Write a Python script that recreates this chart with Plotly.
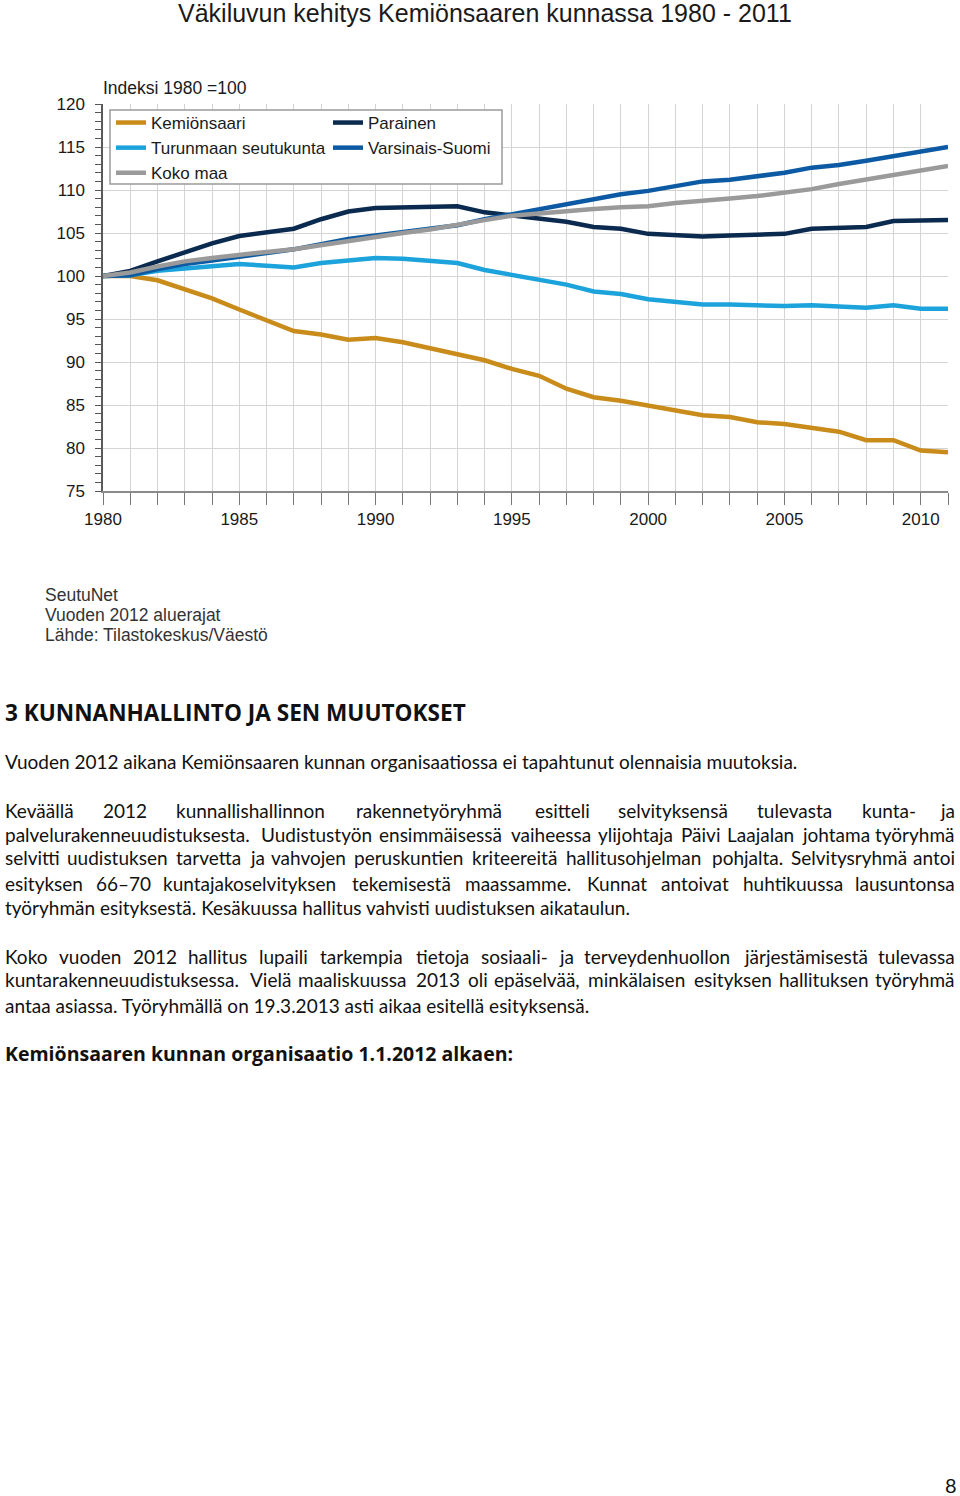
import plotly.graph_objects as go

# ---------------- data ----------------
years = list(range(1980, 2012))
kemionsaari = [100, 100, 99.5, 98.5, 97.4, 96.1, 94.8, 93.6, 93.2, 92.6, 92.8, 92.3, 91.6, 90.9, 90.2, 89.2,
               88.4, 86.9, 85.9, 85.5, 84.9, 84.4, 83.8, 83.6, 83.0, 82.8, 82.4, 81.9, 80.9, 80.9, 79.7, 79.5]
parainen = [100, 100.6, 101.7, 102.8, 103.8, 104.65, 105.1, 105.5, 106.6, 107.5, 107.9, 108.0, 108.1, 108.1, 107.4, 107.0,
            106.6, 106.3, 105.7, 105.5, 104.9, 104.7, 104.6, 104.7, 104.8, 104.9, 105.5, 105.6, 105.7, 106.4, 106.4, 106.5]
turunmaa = [100, 100.1, 100.6, 100.85, 101.2, 101.4, 101.2, 101.0, 101.5, 101.8, 102.1, 102.0, 101.8, 101.5, 100.7, 100.1,
            99.5, 99.0, 98.2, 97.9, 97.3, 97.0, 96.7, 96.7, 96.6, 96.5, 96.6, 96.5, 96.3, 96.6, 96.2, 96.2]
varsinais = [100, 100.1, 100.8, 101.4, 101.8, 102.2, 102.7, 103.1, 103.7, 104.3, 104.7, 105.1, 105.5, 105.9, 106.6, 107.2,
             107.8, 108.4, 109.0, 109.5, 109.9, 110.5, 111.0, 111.2, 111.6, 112.0, 112.6, 112.9, 113.4, 113.9, 114.5, 115.0]
koko_maa = [100, 100.4, 101.1, 101.7, 102.1, 102.5, 102.8, 103.1, 103.6, 104.1, 104.5, 105.0, 105.4, 106.0, 106.5, 107.0,
            107.3, 107.6, 107.8, 108.0, 108.1, 108.5, 108.7, 109.0, 109.3, 109.7, 110.1, 110.7, 111.2, 111.7, 112.3, 112.8]

series_names = ["Kemiönsaari", "Parainen", "Turunmaan seutukunta", "Varsinais-Suomi", "Koko maa"]
series_values = [kemionsaari, parainen, turunmaa, varsinais, koko_maa]
series_colors = ["#C98C1B", "#0B2A4F", "#1CA3DB", "#0C5AA3", "#9A9A9A"]
series_legend = ["legend", "legend2", "legend", "legend2", "legend"]

W, H = 960, 1496
def fx(x):
    return x / W
def fy(y):
    return 1 - y / H

CHART_FONT = "Liberation Sans, Arial, sans-serif"
BODY_FONT = "Lato, Open Sans, sans-serif"
HEAD_FONT = "Open Sans, Lato, sans-serif"

fig = go.Figure()
for name, vals, col, lg in zip(series_names, series_values, series_colors, series_legend):
    fig.add_trace(go.Scatter(x=years, y=vals, mode="lines", name=name,
                             line=dict(color=col, width=4.5), legend=lg))

grid = "#D4D4D4"
LEG_FONT = dict(size=17, family=CHART_FONT, color="#1a1a1a")
fig.update_layout(
    width=W, height=H,
    margin=dict(l=0, r=0, t=0, b=0),
    paper_bgcolor="white", plot_bgcolor="white",
    font=dict(family=CHART_FONT, color="#1a1a1a"),
    showlegend=True,
    xaxis=dict(domain=[fx(103), fx(948)], range=[1980, 2011], tick0=1980, dtick=5,
               ticks="outside", ticklen=12, tickcolor="#777", tickwidth=1,
               showgrid=True, gridcolor=grid, gridwidth=1,
               minor=dict(dtick=1, tick0=1980, ticks="outside", ticklen=12, tickcolor="#777",
                          showgrid=True, gridcolor=grid, gridwidth=1),
               showline=True, linecolor="#8A8A8A", linewidth=1.5, zeroline=False,
               tickfont=dict(size=17, family=CHART_FONT, color="#1a1a1a"),
               ticklabelstandoff=0, automargin=False, fixedrange=True),
    yaxis=dict(domain=[fy(491), fy(104)], range=[75, 120], tick0=75, dtick=5,
               ticks="outside", ticklen=6, tickcolor="#555", tickwidth=1,
               showgrid=True, gridcolor=grid, gridwidth=1,
               minor=dict(dtick=1, ticks="outside", ticklen=6, tickcolor="#555", showgrid=False),
               showline=True, linecolor="#5A5A5A", linewidth=1.5, zeroline=False,
               tickfont=dict(size=17, family=CHART_FONT, color="#1a1a1a"),
               ticklabelstandoff=7, automargin=False, fixedrange=True),
    legend=dict(x=fx(111), y=fy(105), xanchor="left", yanchor="top", orientation="v",
                bgcolor="rgba(0,0,0,0)", borderwidth=0, itemwidth=30, traceorder="normal",
                font=LEG_FONT, tracegroupgap=0),
    legend2=dict(x=fx(328), y=fy(105), xanchor="left", yanchor="top", orientation="v",
                 bgcolor="rgba(0,0,0,0)", borderwidth=0, itemwidth=30, traceorder="normal",
                 font=LEG_FONT, tracegroupgap=0),
)

# legend frame
fig.add_shape(type="rect", xref="paper", yref="paper", x0=fx(110), x1=fx(502), y0=fy(184), y1=fy(110),
              line=dict(color="#9A9A9A", width=1.5), fillcolor="white", layer="above")

annotations = []
def text(x, y, s, size, family=CHART_FONT, anchor="left", color="#1a1a1a", bold=False):
    if bold:
        s = "<b>" + s + "</b>"
    annotations.append(dict(x=fx(x), y=fy(y), xref="paper", yref="paper", text=s, showarrow=False,
                            xanchor=anchor, yanchor="middle", align=anchor if anchor != "center" else "center",
                            font=dict(size=size, family=family, color=color)))

text(485, 13, "Väkiluvun kehitys Kemiönsaaren kunnassa 1980 - 2011", 25, anchor="center")
text(101, 88, "Indeksi 1980 =100", 17.5)
text(43, 595, "SeutuNet", 17.5, color="#333")
text(43, 615, "Vuoden 2012 aluerajat", 17.5, color="#333")
text(43, 635, "Lähde: Tilastokeskus/Väestö", 17.5, color="#333")
text(3, 712, "3 KUNNANHALLINTO JA SEN MUUTOKSET", 22.6, family=HEAD_FONT, color="#111", bold=True)

BODY_SIZE = 19
WIDTH_FIX = 1.025
CW = {"a": .51, "b": .56, "c": .46, "d": .56, "e": .52, "f": .32, "g": .50, "h": .56, "i": .24, "j": .24,
      "k": .50, "l": .24, "m": .85, "n": .56, "o": .56, "p": .56, "q": .56, "r": .37, "s": .42, "t": .35,
      "u": .56, "v": .51, "w": .77, "x": .49, "y": .51, "z": .45, "ä": .51, "ö": .56, "å": .51,
      ".": .2, ",": .2, "-": .34, "–": .5, ":": .2, " ": .19,
      "K": .6, "P": .58, "U": .69, "S": .5, "V": .66, "L": .47, "T": .57, "J": .36}
def word_w(w, size):
    tot = 0
    for ch in w:
        if ch.isdigit():
            tot += .58
        else:
            tot += CW.get(ch, .62)
    return tot * size * WIDTH_FIX

def body_line(y, s, justify):
    if not justify:
        text(3, y, s, BODY_SIZE, family=BODY_FONT, color="#111")
        return
    words = s.split(" ")
    widths = [word_w(w, BODY_SIZE) for w in words]
    left, right = 3, 957
    gap = (right - left - sum(widths)) / (len(words) - 1)
    x = left
    for i, (w, ww) in enumerate(zip(words, widths)):
        if i == len(words) - 1:
            text(right, y, w, BODY_SIZE, family=BODY_FONT, color="#111", anchor="right")
        else:
            text(x, y, w, BODY_SIZE, family=BODY_FONT, color="#111")
        x += ww + gap

body_line(761, "Vuoden 2012 aikana Kemiönsaaren kunnan organisaatiossa ei tapahtunut olennaisia muutoksia.", False)
body_line(810, "Keväällä 2012 kunnallishallinnon rakennetyöryhmä esitteli selvityksensä tulevasta kunta- ja", True)
body_line(834, "palvelurakenneuudistuksesta. Uudistustyön ensimmäisessä vaiheessa ylijohtaja Päivi Laajalan johtama työryhmä", True)
body_line(858, "selvitti uudistuksen tarvetta ja vahvojen peruskuntien kriteereitä hallitusohjelman pohjalta. Selvitysryhmä antoi", True)
body_line(883, "esityksen 66–70 kuntajakoselvityksen tekemisestä maassamme. Kunnat antoivat huhtikuussa lausuntonsa", True)
body_line(907, "työryhmän esityksestä. Kesäkuussa hallitus vahvisti uudistuksen aikataulun.", False)
body_line(956, "Koko vuoden 2012 hallitus lupaili tarkempia tietoja sosiaali- ja terveydenhuollon järjestämisestä tulevassa", True)
body_line(980, "kuntarakenneuudistuksessa. Vielä maaliskuussa 2013 oli epäselvää, minkälaisen esityksen hallituksen työryhmä", True)
body_line(1005, "antaa asiassa. Työryhmällä on 19.3.2013 asti aikaa esitellä esityksensä.", False)
text(3, 1053, "Kemiönsaaren kunnan organisaatio 1.1.2012 alkaen:", 19.5, family=HEAD_FONT, color="#111", bold=True)
text(951, 1485, "8", 20, family=BODY_FONT, anchor="center", color="#111")

fig.update_layout(annotations=annotations)
fig.write_html("out.html")
